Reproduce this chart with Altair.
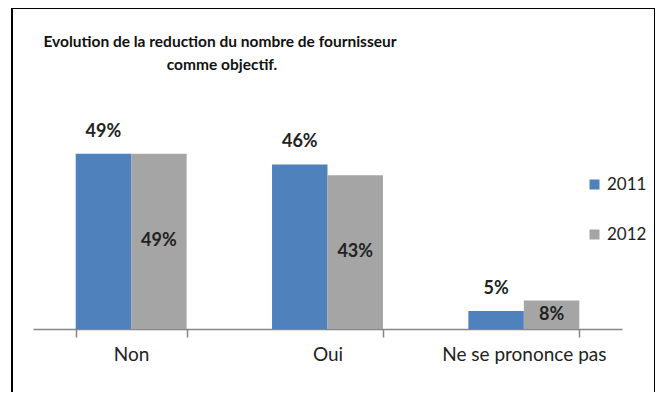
import altair as alt
import pandas as pd

categories = ["Non", "Oui", "Ne se prononce pas"]
years = ["2011", "2012"]
values_2011 = [49, 46, 5]
values_2012 = [49, 43, 8]
title_lines = ["Evolution de la reduction du nombre de fournisseur", "comme objectif."]

rows = []
for c, v1, v2 in zip(categories, values_2011, values_2012):
    rows.append({"cat": c, "year": "2011", "val": v1})
    rows.append({"cat": c, "year": "2012", "val": v2})
df = pd.DataFrame(rows)
df["label"] = df["val"].astype(str) + "%"
df["mid"] = df["val"] / 2

W, H = 589, 229
FONT = "Lato"

x_enc = alt.X("cat:N", sort=categories, title=None,
              scale=alt.Scale(paddingInner=0.435, paddingOuter=0.2175),
              axis=alt.Axis(labelAngle=0, domainColor="#868686", tickColor="#868686",
                            tickSize=8, tickBand="extent", labelPadding=8,
                            labelFontSize=19, labelFont=FONT, labelColor="#222222",
                            domainWidth=1.5, tickWidth=1.5))
y_scale = alt.Scale(domain=[0, 64])
xoff = alt.XOffset("year:N", sort=years)

base = alt.Chart(df)

bars = base.mark_bar().encode(
    x=x_enc,
    xOffset=xoff,
    y=alt.Y("val:Q", scale=y_scale, axis=None),
    color=alt.Color("year:N", sort=years,
                    scale=alt.Scale(domain=years, range=["#4F81BD", "#A5A5A5"]),
                    legend=alt.Legend(title=None, orient="none", legendX=553, legendY=76,
                                      symbolType="square", symbolSize=100,
                                      labelFontSize=17, labelFont=FONT, labelColor="#222222",
                                      rowPadding=32, symbolStrokeWidth=0)),
)

txt_top = base.transform_filter(alt.datum.year == "2011").mark_text(
    fontWeight="bold", fontSize=18, font=FONT, color="#222222", baseline="middle", dy=-22
).encode(x=x_enc, xOffset=xoff, y=alt.Y("val:Q", scale=y_scale, axis=None), text="label:N")

txt_mid = base.transform_filter(alt.datum.year == "2012").mark_text(
    fontWeight="bold", fontSize=18, font=FONT, color="#222222", baseline="middle"
).encode(x=x_enc, xOffset=xoff, y=alt.Y("mid:Q", scale=y_scale, axis=None), text="label:N")

border = alt.Chart(alt.Data(values=[{}])).mark_rect(
    fill="white", fillOpacity=0, stroke="black", strokeWidth=2
).encode(x=alt.value(-21), x2=alt.value(622), y=alt.value(-92), y2=alt.value(320))

title1 = alt.Chart(alt.Data(values=[{"t": title_lines[0]}])).mark_text(
    fontWeight="bold", fontSize=15.5, font=FONT, color="#111111", align="center", baseline="middle"
).encode(text="t:N", x=alt.value(187), y=alt.value(-58))

title2 = alt.Chart(alt.Data(values=[{"t": title_lines[1]}])).mark_text(
    fontWeight="bold", fontSize=15.5, font=FONT, color="#111111", align="center", baseline="middle"
).encode(text="t:N", x=alt.value(189), y=alt.value(-35))

chart = alt.layer(border, title1, title2, bars, txt_top, txt_mid).properties(
    width=W, height=H,
    autosize=alt.AutoSizeParams(type="none"),
    padding={"left": 25, "top": 92, "right": 33, "bottom": 63},
).configure_view(stroke=None)

chart.save("out.html", embed_options={"renderer": "svg", "actions": False})
